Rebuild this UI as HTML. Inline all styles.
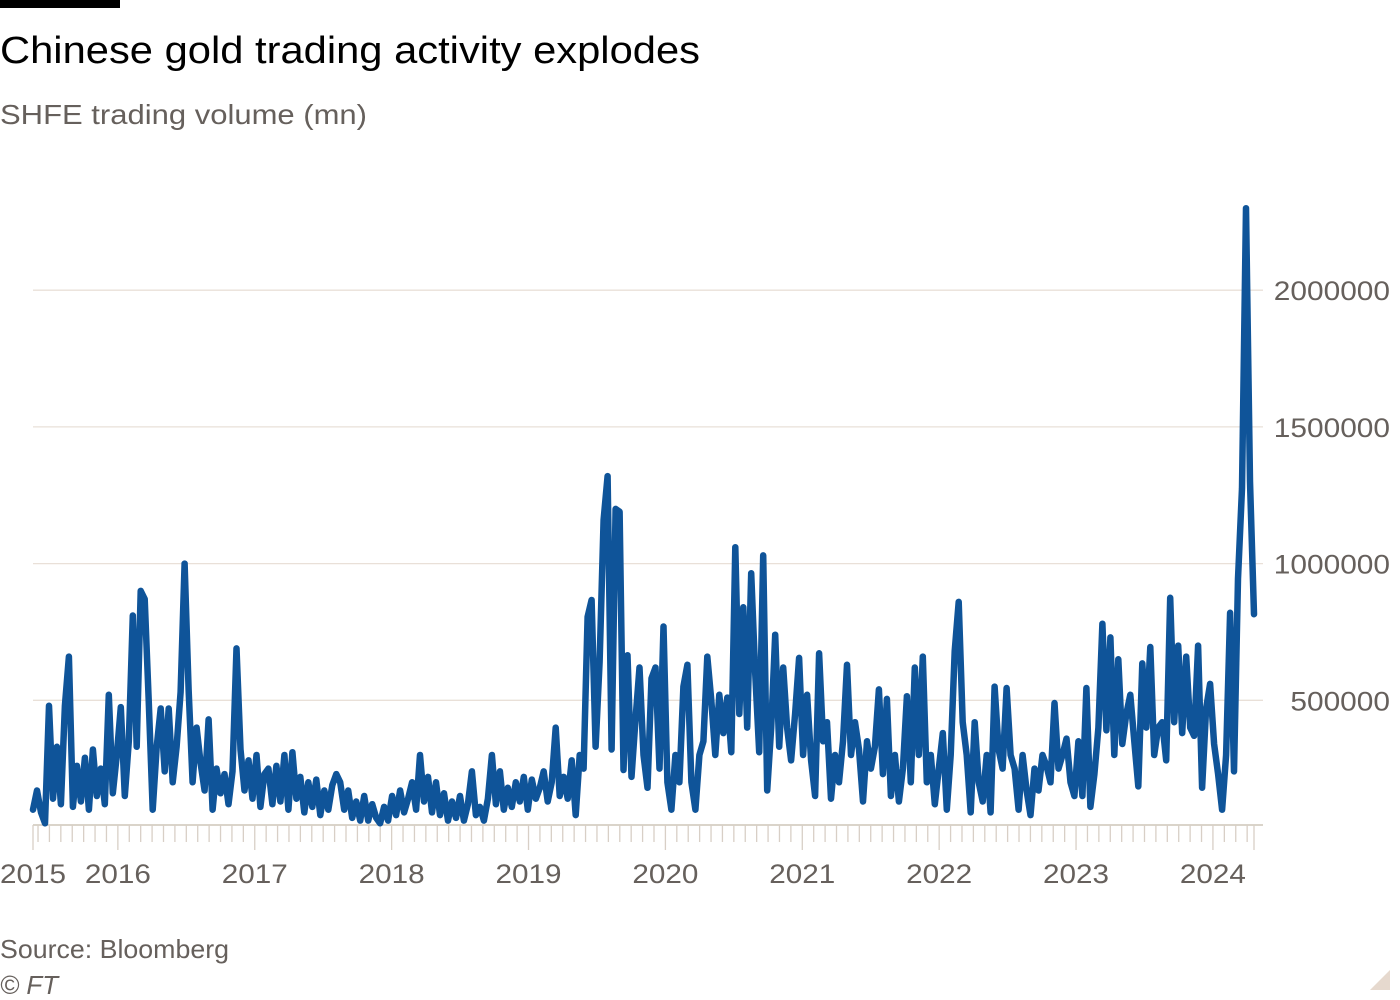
<!DOCTYPE html>
<html><head><meta charset="utf-8"><style>
body{margin:0;background:#fff;width:1400px;height:1000px;overflow:hidden;font-family:"Liberation Sans",sans-serif;}
svg{position:absolute;left:0;top:0}
</style></head><body>
<svg width="1400" height="1000">
<rect x="0" y="0" width="120" height="8" fill="#000"/>
<text x="0" y="63" font-size="38" fill="#000" textLength="700" lengthAdjust="spacingAndGlyphs">Chinese gold trading activity explodes</text>
<text x="0" y="124" font-size="28" fill="#66605c" textLength="367" lengthAdjust="spacingAndGlyphs">SHFE trading volume (mn)</text>
<g id="grid"></g>
<g id="yticks"></g>
<g id="xaxis"></g>
<g id="series"></g>
<text x="0" y="958" font-size="26" fill="#66605c" textLength="229" lengthAdjust="spacingAndGlyphs">Source: Bloomberg</text>
<text x="0" y="994" font-size="26" font-style="italic" fill="#66605c">© FT</text>
<polygon points="1390,970 1390,990 1370,990" fill="#e6d9ce"/>
</svg>
<script>
const yTickValues = [500000, 1000000, 1500000, 2000000];
const yTickLabels = ["500000", "1000000", "1500000", "2000000"];
const xYears = [2015, 2016, 2017, 2018, 2019, 2020, 2021, 2022, 2023, 2024];
const startDate = 2015.38;
const endDate = 2024.30;
// SHFE volume in thousands, evenly spaced from startDate to endDate
const volumeK = [
100,170,90,50,480,140,330,120,480,660,
110,260,130,290,100,320,150,250,120,520,
160,300,475,150,350,810,330,900,870,500,
100,330,470,240,470,200,330,530,1000,540,
200,400,270,170,430,100,250,160,230,120,
240,690,320,170,280,140,300,110,230,250,
120,260,130,300,100,310,140,220,90,200,
110,210,80,170,100,190,230,200,100,170,
70,130,60,150,60,120,70,50,110,60,
150,80,170,90,140,200,100,300,130,220,
90,200,80,160,60,130,70,150,60,120,
240,80,110,60,140,300,120,240,100,180,
110,200,130,220,100,210,140,180,240,130,
200,400,150,220,140,280,80,300,250,805,
867,330,640,1160,1320,320,1200,1190,245,665,
220,430,620,300,180,580,620,250,770,200,
100,300,200,550,630,200,100,300,350,660,
500,300,520,380,510,310,1060,450,840,400,
965,600,310,1030,170,400,740,330,620,400,
280,450,655,300,520,280,150,672,350,420,
140,300,200,350,630,300,420,320,130,350,
250,330,540,230,505,150,300,130,250,515,
200,620,300,660,200,300,120,250,380,100,
300,680,860,420,300,90,420,200,130,300,
90,550,320,250,545,300,250,100,300,170,
80,250,170,300,260,200,490,250,300,360,
200,150,350,150,545,110,230,400,780,390,
730,300,650,340,450,520,350,185,635,400,
695,300,400,420,280,875,420,700,380,660,
400,370,700,180,470,560,340,230,100,300,
820,240,945,1275,2300,1300,815
];
const X0=33, X1=1254, Y0=837, PX_PER_MIL=136.7/500;
function xScale(t){return X0+(t-startDate)/(endDate-startDate)*(X1-X0);}
function yScale(v){return Y0-v/1000*PX_PER_MIL;}
const NS="http://www.w3.org/2000/svg";
const grid=document.getElementById('grid'), yt=document.getElementById('yticks'), xa=document.getElementById('xaxis'), se=document.getElementById('series');
yTickValues.forEach((v,i)=>{
  const l=document.createElementNS(NS,'line');
  
  
  l.setAttribute('x1',X0);l.setAttribute('x2',1263);l.setAttribute('y1',yScale(v));l.setAttribute('y2',yScale(v));
  l.setAttribute('stroke','#e9e0d8');l.setAttribute('stroke-width','1.3');grid.appendChild(l);
  const t=document.createElementNS(NS,'text');
  
  
  const w=yTickLabels[i].length*16.6;
  t.setAttribute('x',1390-w);t.setAttribute('y',yScale(v)+10);
  t.setAttribute('textLength',w);t.setAttribute('lengthAdjust','spacingAndGlyphs');
  t.setAttribute('font-size','27');t.setAttribute('fill','#66605c');t.textContent=yTickLabels[i];yt.appendChild(t);
});
const ax=document.createElementNS(NS,'line');


ax.setAttribute('x1',X0);ax.setAttribute('x2',1263);ax.setAttribute('y1',825);ax.setAttribute('y2',825);
ax.setAttribute('stroke','#cec6b9');ax.setAttribute('stroke-width','1.5');xa.appendChild(ax);
for(let m=Math.ceil(startDate*12);m<=Math.floor(endDate*12);m++){
  const t=m/12, x=xScale(t), major=(m%12===0);
  const l=document.createElementNS(NS,'line');
  
  
  l.setAttribute('x1',x);l.setAttribute('x2',x);l.setAttribute('y1',825);l.setAttribute('y2',major?850:842);
  l.setAttribute('stroke','#d8cfc6');l.setAttribute('stroke-width','1.3');xa.appendChild(l);
}
[X0,X1].forEach(x=>{
  const l=document.createElementNS(NS,'line');
  
  
  l.setAttribute('x1',x);l.setAttribute('x2',x);l.setAttribute('y1',825);l.setAttribute('y2',850);
  l.setAttribute('stroke','#d8cfc6');l.setAttribute('stroke-width','1.3');xa.appendChild(l);
});
xYears.forEach(y=>{
  const t=document.createElementNS(NS,'text');
  
  
  const x = y===2015 ? 0 : xScale(y)-33;
  t.setAttribute('x',x);t.setAttribute('y',883);
  t.setAttribute('textLength','66');t.setAttribute('lengthAdjust','spacingAndGlyphs');
  t.setAttribute('font-size','27');t.setAttribute('fill','#66605c');t.textContent=String(y);xa.appendChild(t);
});
const n=volumeK.length;
const pts=volumeK.map((v,i)=>xScale(startDate+i*(endDate-startDate)/(n-1)).toFixed(1)+','+yScale(v*1000).toFixed(1)).join(' ');
const pl=document.createElementNS(NS,'polyline');


pl.setAttribute('points',pts);pl.setAttribute('fill','none');pl.setAttribute('stroke','#0f5499');
pl.setAttribute('stroke-width','6.5');pl.setAttribute('stroke-linejoin','round');pl.setAttribute('stroke-linecap','round');
se.appendChild(pl);
</script>
</body></html>
